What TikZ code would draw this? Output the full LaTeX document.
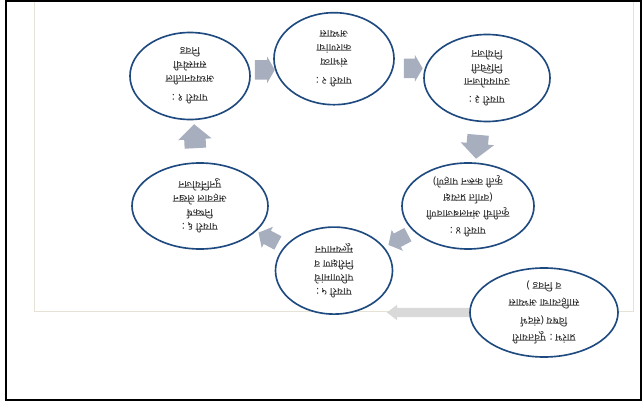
\documentclass[tikz,border=0pt]{standalone}
\usepackage{fontspec}
\newfontfamily\deva[Script=Devanagari]{Noto Sans}
\usetikzlibrary{shapes.geometric,shapes.arrows,calc}

\definecolor{azulborde}{HTML}{1F4A80}
\definecolor{grisflecha}{HTML}{A7AEBE}
\definecolor{grisclaro}{HTML}{D9D9D9}
\definecolor{marcoclaro}{HTML}{E6E2D6}

\tikzset{
	paso/.style={ellipse, draw=azulborde, line width=1.4pt, fill=white, inner sep=0pt},
	textopaso/.style={font=\deva\bfseries\fontsize{9}{12}\selectfont, align=center, rotate=180, text=black!85, inner sep=0pt},
	flecha/.style={single arrow, fill=grisflecha, draw=none, inner xsep=0pt},
	flechainicio/.style={single arrow, fill=grisclaro, draw=none, inner xsep=0pt}
}

\begin{document}
\begin{tikzpicture}[x=0.03cm, y=-0.03cm]
	\useasboundingbox (0,0) rectangle (643,405);

	% Marcos
	\draw [line width=1.6pt] (6,0.8) rectangle (641,400);
	\draw [marcoclaro, line width=0.8pt] (34,1.6) -- (34,311) -- (633,311) -- (633,1.6);

	% Elipses del ciclo
	\node [paso, minimum width=3.6cm, minimum height=2.61cm] (e1) at (190,76) {};
	\node [paso, minimum width=3.6cm, minimum height=2.76cm] (e2) at (334,58.7) {};
	\node [paso, minimum width=3.78cm, minimum height=2.61cm] (e3) at (487,78) {};
	\node [paso, minimum width=3.96cm, minimum height=2.58cm] (e4) at (468,206) {};
	\node [paso, minimum width=3.51cm, minimum height=2.61cm] (e5) at (334,270.6) {};
	\node [paso, minimum width=4.08cm, minimum height=2.58cm] (e6) at (200,206) {};

	% Flechas del ciclo
	\node [flecha, minimum height=0.6cm, inner ysep=0.285cm, single arrow head extend=0.105cm, single arrow tip angle=120] (a12) at ($(e1)!0.5!(e2)+(0,2.5)$) {};
	\node [flecha, minimum height=0.56cm, inner ysep=0.285cm, single arrow head extend=0.11cm, single arrow tip angle=120] (a23) at ($(e2)!0.5!(e3)$) {};
	\node [flecha, rotate=-95, minimum height=0.72cm, inner ysep=0.315cm, single arrow head extend=0.18cm, single arrow tip angle=96] (a34) at ($(e3)!0.5!(e4)$) {};
	\node [flecha, rotate=208, minimum height=0.66cm, inner ysep=0.22cm, single arrow head extend=0.13cm, single arrow tip angle=100] (a45) at ($(e4)!0.5!(e5)$) {};
	\node [flecha, rotate=152, minimum height=0.66cm, inner ysep=0.22cm, single arrow head extend=0.13cm, single arrow tip angle=100] (a56) at ($(e5)!0.5!(e6)+(4,1)$) {};
	\node [flecha, rotate=93, minimum height=0.72cm, inner ysep=0.315cm, single arrow head extend=0.18cm, single arrow tip angle=96] (a61) at ($(e6)!0.5!(e1)$) {};

	% Elipse de inicio y su flecha
	\coordinate (puntainicio) at (390,312.5);
	\coordinate (centroinicio) at (544,312.5);
	\node [flechainicio, rotate=180, minimum height=4.62cm, inner ysep=0.135cm, single arrow head extend=0.09cm, single arrow tip angle=74] (a7) at ($(puntainicio)!0.5!(centroinicio)$) {};
	\node [paso, minimum width=4.44cm, minimum height=2.67cm] (e7) at (centroinicio) {};

	% Textos
	\node [textopaso] (t1) at (e1) {पायरी १ :\\[4pt] अध्ययनातील\\ समस्येची\\ निवड};
	\node [textopaso] (t2) at (e2) {पायरी २ :\\[4pt] संभाव्य\\ कारणांचा\\ अभ्यास};
	\node [textopaso] (t3) at (e3) {पायरी ३ :\\[3pt] उपाययोजना\\ निश्चिती\\ नियोजन};
	\node [textopaso, font=\deva\bfseries\fontsize{9}{14}\selectfont] (t4) at (e4) {पायरी ४ :\\ कृतीची अंमलबजावणी\\ (वर्गात प्रत्यक्ष\\ कृती करून पाहणे)};
	\node [textopaso] (t5) at (e5) {पायरी ५ :\\ परिणामांचे\\ निरीक्षण व\\ मूल्यमापन};
	\node [textopaso] (t6) at (e6) {पायरी ६ :\\ निष्कर्ष\\ अहवाल लेखन\\ पुनर्नियोजन};
	\node [textopaso, font=\deva\bfseries\fontsize{9}{15}\selectfont] (t7) at (e7) {प्रारंभ : पूर्वतयारी\\ विषय (संदर्भ\\ साहित्याचा अभ्यास\\ व निवड )};
\end{tikzpicture}
\end{document}
